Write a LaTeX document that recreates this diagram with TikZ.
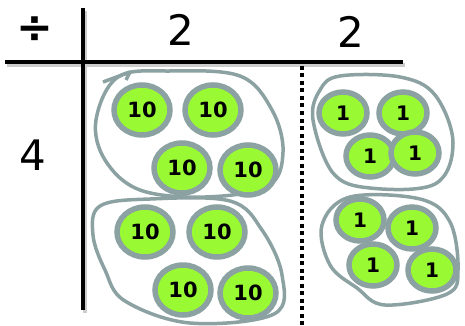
\documentclass[tikz,border=0pt]{standalone}
\usepackage{fontspec}
\setmainfont{DejaVu Sans}
\usepackage{tikz}
\usetikzlibrary{shapes.geometric}

\definecolor{chipgreen}{RGB}{153,250,51}
\definecolor{rimgray}{RGB}{140,162,162}

\begin{document}
\begin{tikzpicture}[
  x=1pt, y=-1pt,
  ten/.style={draw=rimgray, line width=5.5pt, fill=chipgreen, ellipse, inner sep=0pt, minimum width=56pt, minimum height=50pt, font=\fontsize{21}{21}\selectfont\bfseries},
  unit/.style={draw=rimgray, line width=5.5pt, fill=chipgreen, ellipse, inner sep=0pt, minimum width=48pt, minimum height=42pt, font=\fontsize{20}{20}\selectfont\bfseries},
  loop/.style={draw=rimgray, line width=3.5pt, line join=round},
  rule/.style={line width=4pt, black},
  shadow/.style={line width=4pt, black!20},
  head/.style={font=\fontsize{42}{42}\selectfont}
]
\useasboundingbox (0,0) rectangle (465,326);

% table lines
\coordinate (hl) at (5,62);
\coordinate (hr) at (403,62);
\coordinate (vt) at (83,8);
\coordinate (vb) at (83,310);
\coordinate (dt) at (302,66);
\coordinate (db) at (302,326);
\draw[shadow] ([shift={(2,3)}]hl) -- ([shift={(2,3)}]hr);
\draw[shadow] ([shift={(2,3)}]vt) -- ([shift={(2,3)}]vb);
\draw[rule] (hl) -- (hr);
\draw[rule] (vt) -- (vb);
\draw[line width=4pt, dash pattern=on 4pt off 3.5pt] (dt) -- (db);

% headings
\node[head, font=\fontsize{44}{44}\selectfont\bfseries] (op) at (35,30) {÷};
\node[head] (hund) at (181,30) {2};
\node[head] (ones) at (351,32) {2};
\node[head] (divisor) at (33,155) {4};

% group loops
\draw[loop] plot[smooth cycle, tension=0.6] coordinates {(118,77) (170,71) (240,76) (272,110) (283,152) (268,186) (205,197) (140,190) (105,160) (96,120)};
\draw[loop] (103,82) -- (130,72) -- (126,80);
\draw[loop] plot[smooth cycle, tension=0.6] coordinates {(100,206) (150,199) (230,201) (262,230) (282,275) (274,314) (190,323) (125,301) (105,270) (93,235)};
\draw[loop] plot[smooth cycle, tension=0.6] coordinates {(340,76) (400,77) (435,95) (453,143) (435,184) (370,188) (333,173) (313,120) (320,90)};
\draw[loop] plot[smooth cycle, tension=0.6] coordinates {(350,197) (420,199) (450,222) (458,270) (447,294) (385,305) (357,288) (330,265) (322,225)};

% tens
\node[ten] (ten1) at (142,110) {10};
\node[ten] (ten2) at (213,110) {10};
\node[ten] (ten3) at (182,168) {10};
\node[ten] (ten4) at (248,170) {10};
\node[ten] (ten5) at (145,232) {10};
\node[ten] (ten6) at (217,232) {10};
\node[ten] (ten7) at (183,290) {10};
\node[ten] (ten8) at (248,293) {10};

% ones
\node[unit] (one1) at (343,113) {1};
\node[unit] (one2) at (403,113) {1};
\node[unit] (one3) at (370,156) {1};
\node[unit] (one4) at (415,153) {1};
\node[unit] (one5) at (360,220) {1};
\node[unit] (one6) at (412,228) {1};
\node[unit] (one7) at (373,265) {1};
\node[unit] (one8) at (432,270) {1};
\end{tikzpicture}
\end{document}
